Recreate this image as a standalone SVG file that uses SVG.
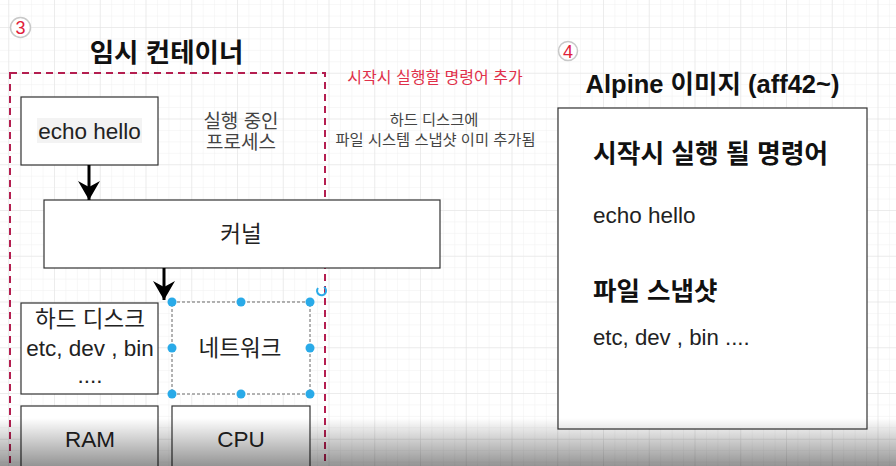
<svg xmlns="http://www.w3.org/2000/svg" width="896" height="466" viewBox="0 0 896 466">
  <defs>
    <pattern id="minor" width="11.4375" height="11.4375" patternUnits="userSpaceOnUse" x="8.25" y="27">
      <path d="M0,0 H11.4375 M0,0 V11.4375" fill="none" stroke="#efefef" stroke-width="1"/>
    </pattern>
    <pattern id="major" width="45.75" height="45.75" patternUnits="userSpaceOnUse" x="8.25" y="27">
      <path d="M0,0 H45.75 M0,0 V45.75" fill="none" stroke="#e1e1e1" stroke-width="1"/>
    </pattern>
    <linearGradient id="shade" x1="0" y1="0" x2="0" y2="1">
      <stop offset="0" stop-color="#000" stop-opacity="0"/>
      <stop offset="1" stop-color="#000" stop-opacity="0.42"/>
    </linearGradient>
    <marker id="arrow" markerUnits="userSpaceOnUse" viewBox="0 0 20 22" markerWidth="20" markerHeight="22" refX="19" refY="11" orient="auto">
      <path d="M0,0 L19,11 L0,22 L6,11 Z" fill="#000"/>
    </marker>
    <style>
      .ko { font-family: "Liberation Sans", "Noto Sans CJK KR", sans-serif; }
      .box { fill: #fff; stroke: #333; stroke-width: 1.2; }
      .lbl { font-size: 22.5px; fill: #222; text-anchor: middle; }
      .note { fill: #444; text-anchor: middle; }
      .num { fill: #fff; stroke: #c8c8c8; stroke-width: 1.5; }
      .numtxt { font-size: 18px; fill: #e0203a; text-anchor: middle; }
      .handle { fill: #29aae8; }
      .edge { stroke: #000; stroke-width: 3; fill: none; marker-end: url(#arrow); }
      .head { font-weight: bold; fill: #111; }
    </style>
  </defs>

  <rect width="896" height="466" fill="#fff"/>
  <rect width="896" height="466" fill="url(#minor)"/>
  <rect width="896" height="466" fill="url(#major)"/>

  <g id="badge3">
    <circle class="num" cx="20.5" cy="27.5" r="10"/>
    <text class="ko numtxt" x="20.5" y="34">3</text>
  </g>
  <g id="title-temp">
    <text class="ko head" x="166.5" y="62" font-size="26.5" text-anchor="middle">임시 컨테이너</text>
  </g>

  <g id="container">
    <rect x="10" y="73" width="315" height="420" fill="none" stroke="#b41e50" stroke-width="2" stroke-dasharray="7 5"/>
  </g>

  <g id="echo-hello">
    <rect class="box" x="21" y="97" width="137" height="68"/>
    <rect x="37" y="118" width="105" height="25" fill="#f3f3f3"/>
    <text class="ko lbl" x="89.5" y="139">echo hello</text>
  </g>

  <g id="running-process">
    <text class="ko note" x="241" y="128" font-size="19">실행 중인</text>
    <text class="ko note" x="241" y="149" font-size="19">프로세스</text>
  </g>

  <g id="kernel">
    <rect class="box" x="44" y="200" width="396" height="68"/>
    <text class="ko lbl" x="241" y="242" font-size="21">커널</text>
  </g>

  <g id="hard-disk">
    <rect class="box" x="21" y="303" width="137" height="91"/>
    <text class="ko lbl" x="90" y="327" font-size="21.5">하드 디스크</text>
    <text class="ko lbl" x="90" y="356">etc, dev , bin</text>
    <text class="ko lbl" x="90" y="383">....</text>
  </g>

  <g id="network">
    <rect x="172" y="302" width="138" height="92" fill="#fff" stroke="#666" stroke-width="1" stroke-dasharray="3 2"/>
    <text class="ko lbl" x="240" y="356" font-size="21.5">네트워크</text>
    <circle class="handle" cx="172" cy="302" r="4.5"/>
    <circle class="handle" cx="241" cy="302" r="4.5"/>
    <circle class="handle" cx="310" cy="302" r="4.5"/>
    <circle class="handle" cx="172" cy="348" r="4.5"/>
    <circle class="handle" cx="310" cy="348" r="4.5"/>
    <circle class="handle" cx="172" cy="394" r="4.5"/>
    <circle class="handle" cx="241" cy="394" r="4.5"/>
    <circle class="handle" cx="310" cy="394" r="4.5"/>
    <path d="M324,287 A4.5,4.5 0 1 1 318,288" fill="none" stroke="#29aae8" stroke-width="2"/>
  </g>

  <g id="ram">
    <rect class="box" x="21" y="406" width="137" height="80"/>
    <text class="ko lbl" x="90" y="447">RAM</text>
  </g>

  <g id="cpu">
    <rect class="box" x="172" y="406" width="138" height="80"/>
    <text class="ko lbl" x="241" y="447">CPU</text>
  </g>

  <g id="connectors">
    <line class="edge" x1="89" y1="165" x2="89" y2="200"/>
    <line class="edge" x1="164" y1="268" x2="164" y2="300"/>
  </g>

  <g id="notes">
    <text class="ko" x="435" y="83" font-size="16" fill="#e0304a" text-anchor="middle">시작시 실행할 명령어 추가</text>
    <text class="ko note" x="434" y="125" font-size="15.3">하드 디스크에</text>
    <text class="ko note" x="435.5" y="145" font-size="15.3">파일 시스템 스냅샷 이미 추가됨</text>
  </g>

  <g id="badge4">
    <circle class="num" cx="568" cy="51" r="9.5"/>
    <text class="ko numtxt" x="568" y="57.5">4</text>
  </g>
  <g id="title-alpine">
    <text class="ko head" x="712.5" y="93" font-size="25.5" text-anchor="middle">Alpine 이미지 (aff42~)</text>
  </g>

  <g id="alpine-image">
    <rect class="box" x="558" y="108" width="309" height="321"/>
    <text class="ko head" x="593" y="163" font-size="25.8">시작시 실행 될 명령어</text>
    <text class="ko" x="593" y="223" font-size="22.5" fill="#222">echo hello</text>
    <text class="ko head" x="593" y="300" font-size="25.5">파일 스냅샷</text>
    <text class="ko" x="593" y="345" font-size="22.2" fill="#222">etc, dev , bin ....</text>
  </g>

  <rect x="0" y="418" width="896" height="48" fill="url(#shade)"/>
</svg>
